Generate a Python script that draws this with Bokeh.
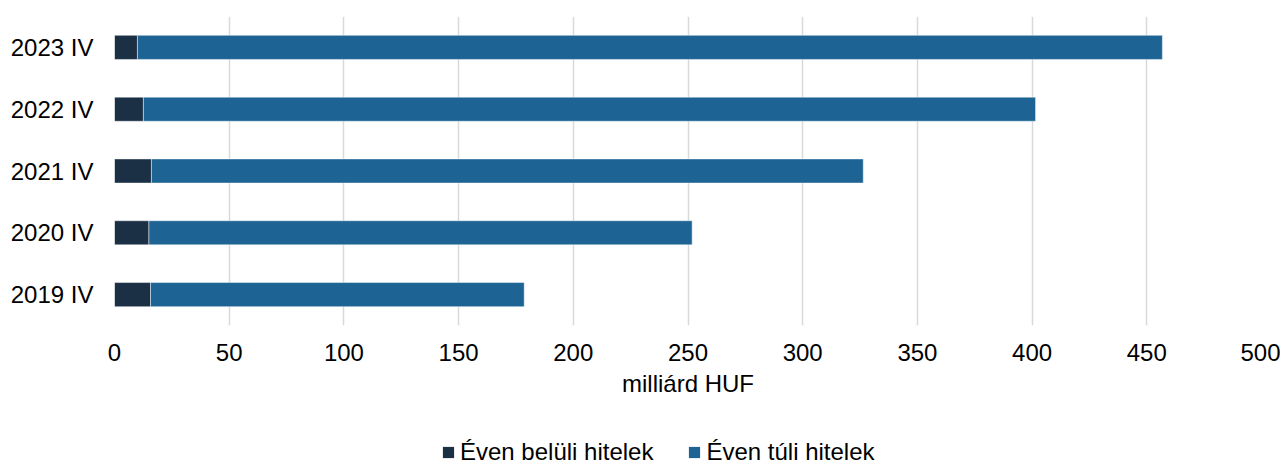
from bokeh.plotting import figure
from bokeh.layouts import column
from bokeh.models import FactorRange, Legend, LegendItem, ColumnDataSource, Range1d, FixedTicker
from bokeh.embed import file_html
from bokeh.resources import INLINE

categories = ["2019 IV", "2020 IV", "2021 IV", "2022 IV", "2023 IV"]
within_year = [15.7, 15.0, 16.1, 12.6, 10.0]
beyond_year = [162.9, 236.8, 310.3, 388.9, 446.8]
series_names = ["Éven belüli hitelek", "Éven túli hitelek"]
series_keys = ["within", "beyond"]
colors = ["#1b3045", "#1d6494"]
x_ticks = [0, 50, 100, 150, 200, 250, 300, 350, 400, 450, 500]
x_title = "milliárd HUF"

FONT = "Liberation Sans"

source = ColumnDataSource(dict(cat=categories, within=within_year, beyond=beyond_year))

p = figure(width=1280, height=420,
           y_range=FactorRange(*categories, range_padding=0),
           x_range=Range1d(0, 500),
           output_backend="svg", toolbar_location=None,
           min_border_left=114, min_border_right=19,
           min_border_top=16, min_border_bottom=95)

renderers = p.hbar_stack(series_keys, y="cat", height=0.39, color=colors,
                         line_color="#ffffff", line_alpha=0.45, line_width=1,
                         source=source)

p.outline_line_color = None
p.ygrid.grid_line_color = None
p.xgrid.grid_line_color = "#d9d9d9"
p.xgrid.grid_line_width = 1.5
p.xaxis.ticker = FixedTicker(ticks=x_ticks)

for ax in (p.xaxis[0], p.yaxis[0]):
    ax.axis_line_color = None
    ax.major_tick_line_color = None
    ax.minor_tick_line_color = None
    ax.major_tick_out = 0
    ax.major_tick_in = 0
    ax.major_label_text_font = FONT
    ax.major_label_text_font_size = "24px"
    ax.major_label_text_color = "#000000"

p.xaxis.major_label_standoff = 18
p.xaxis.axis_label = x_title
p.xaxis.axis_label_text_font = FONT
p.xaxis.axis_label_text_font_size = "24px"
p.xaxis.axis_label_text_font_style = "normal"
p.xaxis.axis_label_text_color = "#000000"
p.xaxis.axis_label_standoff = 6
p.yaxis.major_label_standoff = 21

# legend strip below the chart (holds only invisible NaN swatches for the legend)
lg = figure(width=1280, height=46, x_range=Range1d(0, 1), y_range=Range1d(0, 1),
            output_backend="svg", toolbar_location=None,
            x_axis_type=None, y_axis_type=None,
            min_border_left=0, min_border_right=0, min_border_top=0, min_border_bottom=0)
lg.outline_line_color = None
lg.grid.visible = False
nan = float("nan")
swatches = [lg.hbar(y=[nan], right=[nan], height=0.5, fill_color=c, line_color=None) for c in colors]

legend = Legend(items=[LegendItem(label=n, renderers=[r]) for n, r in zip(series_names, swatches)],
                orientation="horizontal", location=(327, 0),
                label_text_font=FONT, label_text_font_size="24px", label_text_color="#000000",
                glyph_width=14, glyph_height=14, label_standoff=5, spacing=34,
                padding=0, margin=0, border_line_color=None, background_fill_alpha=0)
lg.add_layout(legend, "center")

layout = column(p, lg, spacing=0)
open("out.html", "w").write(file_html(layout, INLINE))
